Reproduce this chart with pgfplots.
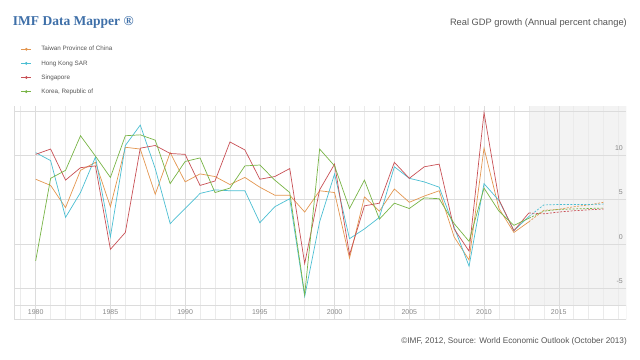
\documentclass[border=0pt]{standalone}
\usepackage{fontspec}
\setmainfont{Liberation Sans}
\newfontfamily\titlefont{Liberation Serif}
\usepackage{pgfplots}
\pgfplotsset{compat=1.18}
\definecolor{cTW}{HTML}{E39650}
\definecolor{cHK}{HTML}{4BBED2}
\definecolor{cSG}{HTML}{C85055}
\definecolor{cKR}{HTML}{78B446}
\definecolor{cTitle}{HTML}{3E6FA8}
\definecolor{cText}{HTML}{555555}
\definecolor{cTick}{HTML}{888888}
\definecolor{gMajor}{HTML}{DCDCDC}
\definecolor{gMinor}{HTML}{EBEBEB}
\definecolor{cShade}{HTML}{F3F3F3}
\begin{document}
\begin{tikzpicture}
\path[use as bounding box] (0pt,0pt) rectangle (640pt,359pt);
\node[anchor=west, inner sep=0pt, text=cTitle, font=\titlefont\bfseries\fontsize{13.5}{15}\selectfont] at (12.7pt,336.3pt) {IMF Data Mapper ®};
\node[anchor=east, inner sep=0pt, text=cText, font=\fontsize{9.3}{11}\selectfont] at (627pt,336pt) {Real GDP growth (Annual percent change)};
\node[anchor=east, inner sep=0pt, text=cText, font=\fontsize{8.2}{10}\selectfont] at (627pt,18pt) {©IMF, 2012, Source: World Economic Outlook (October 2013)};
\begin{axis}[
  at={(14pt,40pt)}, anchor=south west,
  scale only axis, width=612pt, height=213pt,
  xmin=1978.55, xmax=2019.5, ymin=-8.45, ymax=15.55,
  axis line style={draw=none},
  xtick={1980,1985,1990,1995,2000,2005,2010,2015},
  xticklabels={1980,1985,1990,1995,2000,2005,2010,2015},
  minor xtick={1979,1981,1982,1983,1984,1986,1987,1988,1989,1991,1992,1993,1994,1996,1997,1998,1999,2001,2002,2003,2004,2006,2007,2008,2009,2011,2012,2013,2014,2016,2017,2018,2019},
  ytick={-5,0,5,10,15},
  yticklabels={},
  major tick length=0pt, minor tick length=0pt,
  grid=both,
  major grid style={draw=gMajor, line width=0.5pt},
  minor grid style={draw=gMinor, line width=0.5pt},
  xticklabel style={anchor=center, yshift=7pt, font=\fontsize{7}{8}\selectfont, text=cTick},
  legend style={at={(0.011,1.281)}, anchor=north west, draw=none, fill=none,
    font=\fontsize{6.3}{7}\selectfont, text=cText, inner sep=0pt,
    nodes={inner sep=0pt, text height=4.6pt, text depth=1.3pt},
    row sep=8.2pt},
  legend cell align=left,
  legend image code/.code={\path[draw=none] (0pt,0pt) -- (20pt,0pt); \draw[#1, line width=0.8pt, solid] (0pt,0pt) -- (10pt,0pt); \fill[#1] (5pt,0pt) circle (1pt);},
]
\fill[cShade] (axis cs:2013,-6.86) rectangle (axis cs:2019.5,15.55);
\foreach \yr in {2013,2014,2016,2017,2018,2019} {
  \edef\temp{\noexpand\draw[gMinor, line width=0.5pt] (axis cs:\yr,-8.45) -- (axis cs:\yr,15.55);}
  \temp
}
\draw[gMajor, line width=0.5pt] (axis cs:2015,-8.45) -- (axis cs:2015,15.55);
\foreach \yv in {-5,0,5,10,15} {
  \edef\temp{\noexpand\draw[gMajor, line width=0.5pt] (axis cs:2013,\yv) -- (axis cs:2019.5,\yv);}
  \temp
}
\draw[gMajor, line width=0.5pt] (axis cs:1978.55,-8.45) rectangle (axis cs:2019.5,-6.86);
\draw[gMajor, line width=0.5pt] (rel axis cs:0,0) -- (rel axis cs:0,1);
\draw[gMajor, line width=0.5pt] (rel axis cs:1,0) -- (rel axis cs:1,1);
\foreach \yv/\lab in {-5/-5,0/0,5/5,10/10} {
  \edef\temp{\noexpand\node[anchor=south east, inner sep=0pt, xshift=-3pt, yshift=4.5pt, font=\noexpand\fontsize{7}{8}\noexpand\selectfont, text=cTick] at (axis cs:2019.5,\yv) {\lab};}
  \temp
}

% Taiwan Province of China
\addplot[cTW, line width=0.7pt] coordinates {
(1980,7.3)(1981,6.6)(1982,4.1)(1983,8.3)(1984,9.2)(1985,4.2)(1986,10.9)(1987,10.7)(1988,5.6)(1989,10.3)
(1990,7.0)(1991,7.9)(1992,7.6)(1993,6.7)(1994,7.5)(1995,6.4)(1996,5.5)(1997,5.5)(1998,3.6)(1999,6.0)
(2000,5.8)(2001,-1.6)(2002,5.3)(2003,3.7)(2004,6.2)(2005,4.7)(2006,5.4)(2007,6.0)(2008,0.8)(2009,-1.8)
(2010,10.8)(2011,4.0)(2012,1.3)(2013,2.5)};
\addlegendentry{Taiwan Province of China}
% Hong Kong SAR
\addplot[cHK, line width=0.7pt] coordinates {
(1980,10.3)(1981,9.4)(1982,3.0)(1983,5.8)(1984,9.8)(1985,0.8)(1986,11.1)(1987,13.4)(1988,8.5)(1989,2.3)
(1990,4.0)(1991,5.7)(1992,6.1)(1993,6.0)(1994,6.0)(1995,2.4)(1996,4.2)(1997,5.1)(1998,-5.9)(1999,2.5)
(2000,7.9)(2001,0.6)(2002,1.7)(2003,3.0)(2004,8.7)(2005,7.4)(2006,7.0)(2007,6.4)(2008,1.9)(2009,-2.5)
(2010,6.8)(2011,4.9)(2012,1.5)(2013,3.1)};
\addlegendentry{Hong Kong SAR}
% Singapore
\addplot[cSG, line width=0.7pt] coordinates {
(1980,10.1)(1981,10.7)(1982,7.2)(1983,8.6)(1984,8.8)(1985,-0.6)(1986,1.3)(1987,10.8)(1988,11.1)(1989,10.2)
(1990,10.1)(1991,6.6)(1992,7.1)(1993,11.5)(1994,10.6)(1995,7.3)(1996,7.6)(1997,8.5)(1998,-2.2)(1999,6.1)
(2000,9.0)(2001,-1.2)(2002,4.3)(2003,4.6)(2004,9.2)(2005,7.4)(2006,8.7)(2007,9.0)(2008,1.7)(2009,-0.8)
(2010,14.8)(2011,5.0)(2012,1.5)(2013,3.5)};
\addlegendentry{Singapore}
% Korea
\addplot[cKR, line width=0.7pt] coordinates {
(1980,-1.9)(1981,7.4)(1982,8.3)(1983,12.2)(1984,9.9)(1985,7.5)(1986,12.2)(1987,12.3)(1988,11.7)(1989,6.8)
(1990,9.3)(1991,9.7)(1992,5.8)(1993,6.3)(1994,8.8)(1995,8.9)(1996,7.2)(1997,5.8)(1998,-5.7)(1999,10.7)
(2000,8.8)(2001,4.0)(2002,7.2)(2003,2.8)(2004,4.6)(2005,4.0)(2006,5.2)(2007,5.1)(2008,2.3)(2009,0.3)
(2010,6.3)(2011,3.7)(2012,2.1)(2013,2.9)};
\addlegendentry{Korea, Republic of}

% projections
\addplot[cTW, line width=0.7pt, dash pattern=on 2pt off 1.5pt, forget plot] coordinates {
(2013,2.5)(2014,3.8)(2015,3.9)(2016,4.2)(2017,4.4)(2018,4.7)};
\addplot[cHK, line width=0.7pt, dash pattern=on 2pt off 1.5pt, forget plot] coordinates {
(2013,3.1)(2014,4.4)(2015,4.45)(2016,4.45)(2017,4.45)(2018,4.5)};
\addplot[cSG, line width=0.7pt, dash pattern=on 2pt off 1.5pt, forget plot] coordinates {
(2013,3.5)(2014,3.4)(2015,3.6)(2016,3.75)(2017,3.85)(2018,3.95)};
\addplot[cKR, line width=0.7pt, dash pattern=on 2pt off 1.5pt, forget plot] coordinates {
(2013,2.9)(2014,3.7)(2015,3.9)(2016,3.95)(2017,4.0)(2018,4.05)};
\end{axis}
\end{tikzpicture}
\end{document}
